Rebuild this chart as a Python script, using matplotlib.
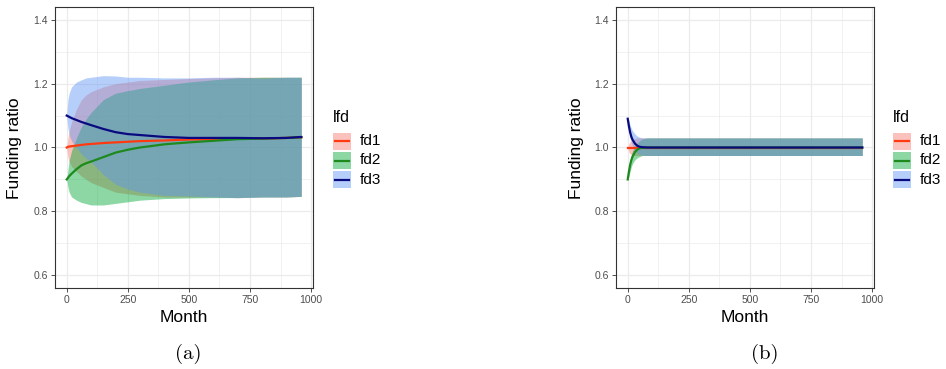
import numpy as np
import matplotlib.pyplot as plt
from matplotlib.patches import Rectangle
from matplotlib.lines import Line2D
from matplotlib.ticker import MultipleLocator

# --- (a) 初期値の影響が長く残るケース ---
months_a = [0, 5, 10, 20, 40, 60, 80, 100, 150, 200, 250, 300, 400, 500, 600, 700, 800, 900, 960]

fd1_mean_a = [1.000, 1.002, 1.003, 1.004, 1.006, 1.008, 1.010, 1.011, 1.014, 1.016,
              1.018, 1.020, 1.022, 1.025, 1.026, 1.028, 1.028, 1.030, 1.032]
fd1_hi_a = [1.00, 1.03, 1.05, 1.08, 1.12, 1.15, 1.165, 1.175, 1.19, 1.20,
            1.205, 1.21, 1.213, 1.216, 1.218, 1.22, 1.22, 1.22, 1.22]
fd1_lo_a = [1.00, 0.97, 0.955, 0.94, 0.925, 0.91, 0.90, 0.89, 0.875, 0.86,
            0.855, 0.85, 0.845, 0.845, 0.845, 0.843, 0.845, 0.845, 0.847]

fd2_mean_a = [0.900, 0.905, 0.910, 0.918, 0.932, 0.944, 0.951, 0.956, 0.970, 0.984,
              0.993, 1.000, 1.010, 1.016, 1.021, 1.026, 1.028, 1.030, 1.032]
fd2_hi_a = [0.90, 0.93, 0.96, 0.99, 1.03, 1.065, 1.09, 1.11, 1.15, 1.17,
            1.178, 1.185, 1.195, 1.205, 1.212, 1.218, 1.22, 1.22, 1.22]
fd2_lo_a = [0.90, 0.875, 0.86, 0.845, 0.835, 0.828, 0.824, 0.82, 0.82, 0.825,
            0.83, 0.835, 0.84, 0.842, 0.843, 0.843, 0.845, 0.845, 0.847]

fd3_mean_a = [1.100, 1.098, 1.096, 1.092, 1.086, 1.080, 1.075, 1.070, 1.058, 1.048,
              1.042, 1.039, 1.033, 1.030, 1.030, 1.030, 1.029, 1.030, 1.033]
fd3_hi_a = [1.10, 1.15, 1.17, 1.19, 1.205, 1.212, 1.218, 1.22, 1.225, 1.224,
            1.22, 1.22, 1.218, 1.218, 1.22, 1.22, 1.217, 1.22, 1.22]
fd3_lo_a = [1.10, 1.06, 1.04, 1.02, 1.00, 0.98, 0.965, 0.955, 0.915, 0.885,
            0.87, 0.86, 0.85, 0.848, 0.845, 0.843, 0.845, 0.845, 0.847]

# --- (b) すぐに1.0へ収束するケース ---
months_b = [0, 5, 10, 15, 20, 30, 40, 50, 60, 80, 100, 200, 300, 400, 500, 600, 700, 800, 900, 960]

fd1_mean_b = [1.000] * 20
fd1_hi_b = [1.00, 1.012, 1.018, 1.022, 1.025, 1.028, 1.03, 1.03, 1.03, 1.03,
            1.03, 1.03, 1.03, 1.03, 1.03, 1.03, 1.03, 1.03, 1.03, 1.03]
fd1_lo_b = [1.00, 0.985, 0.98, 0.978, 0.976, 0.975, 0.975, 0.975, 0.975, 0.975,
            0.975, 0.975, 0.975, 0.975, 0.975, 0.975, 0.975, 0.975, 0.975, 0.975]

fd2_mean_b = [0.900, 0.925, 0.946, 0.961, 0.972, 0.986, 0.994, 0.998, 0.999, 1.000,
              1.000, 1.000, 1.000, 1.000, 1.000, 1.000, 1.000, 1.000, 1.000, 1.000]
fd2_hi_b = [0.90, 0.94, 0.962, 0.978, 0.99, 1.005, 1.015, 1.022, 1.027, 1.03,
            1.03, 1.03, 1.03, 1.03, 1.03, 1.03, 1.03, 1.03, 1.03, 1.03]
fd2_lo_b = [0.90, 0.91, 0.925, 0.94, 0.95, 0.962, 0.968, 0.972, 0.975, 0.975,
            0.975, 0.975, 0.975, 0.975, 0.975, 0.975, 0.975, 0.975, 0.975, 0.975]

fd3_mean_b = [1.090, 1.066, 1.047, 1.033, 1.024, 1.012, 1.005, 1.002, 1.001, 1.000,
              1.000, 1.000, 1.000, 1.000, 1.000, 1.000, 1.000, 1.000, 1.000, 1.000]
fd3_hi_b = [1.09, 1.085, 1.07, 1.06, 1.052, 1.042, 1.035, 1.032, 1.03, 1.03,
            1.03, 1.03, 1.03, 1.03, 1.03, 1.03, 1.03, 1.03, 1.03, 1.03]
fd3_lo_b = [1.09, 1.05, 1.03, 1.015, 1.005, 0.99, 0.982, 0.978, 0.976, 0.975,
            0.975, 0.975, 0.975, 0.975, 0.975, 0.975, 0.975, 0.975, 0.975, 0.975]

labels = ['fd1', 'fd2', 'fd3']
fill_colors = ['#F8766D', '#00A835', '#5F95F5']
line_colors = ['#FF3A10', '#1E8A1E', '#0A0A80']
band_alpha = 0.45

plt.rcParams['font.family'] = ['Liberation Sans', 'DejaVu Sans']

fig = plt.figure(figsize=(9.46, 3.69), dpi=100)
W, H = 946, 369


def panel(x0, x1, months, series, legend_x, tag, tag_x):
    ax = fig.add_axes([x0 / W, 1 - 288 / H, (x1 - x0) / W, 281 / H])
    for (mean, hi, lo), fc in zip(series, fill_colors):
        ax.fill_between(months, lo, hi, color=fc, alpha=band_alpha, lw=0, zorder=2)
    for (mean, hi, lo), lc in zip(series, line_colors):
        ax.plot(months, mean, color=lc, lw=1.6, zorder=3)

    ax.set_xlim(-48, 1008)
    ax.set_ylim(0.56, 1.44)
    ax.xaxis.set_major_locator(MultipleLocator(250))
    ax.xaxis.set_minor_locator(MultipleLocator(125))
    ax.yaxis.set_major_locator(MultipleLocator(0.2))
    ax.yaxis.set_minor_locator(MultipleLocator(0.1))
    ax.yaxis.set_major_formatter(plt.FuncFormatter(lambda v, p: f'{v:.1f}'))
    ax.grid(which='major', color='#EBEBEB', lw=0.9, zorder=0)
    ax.grid(which='minor', color='#EBEBEB', lw=0.5, zorder=0)
    ax.set_axisbelow(True)
    ax.tick_params(which='major', length=3, width=0.6, color='#333333',
                   labelsize=7.5, labelcolor='#4D4D4D', pad=2)
    ax.tick_params(which='minor', length=0)
    for s in ax.spines.values():
        s.set_color('#333333')
        s.set_linewidth(0.8)

    cx = (x0 + x1) / 2
    fig.text(cx / W, 1 - 318 / H, 'Month', ha='center', va='center', fontsize=12.5)
    fig.text((x0 - 40) / W, 1 - 148 / H, 'Funding ratio', ha='center', va='center',
             rotation=90, fontsize=12.5)
    fig.text(tag_x / W, 1 - 354 / H, tag, ha='center', va='center',
             fontsize=15, family='cmr10')

    # 凡例（手書き）
    fig.text(legend_x / W, 1 - 117 / H, 'lfd', ha='left', va='center', fontsize=11.5)
    for i, (lab, fc, lc) in enumerate(zip(labels, fill_colors, line_colors)):
        ytop = 133 + i * 19
        fig.add_artist(Rectangle((legend_x / W, 1 - (ytop + 17) / H), 18 / W, 17 / H,
                                 transform=fig.transFigure, facecolor=fc,
                                 alpha=band_alpha, lw=0))
        yc = 1 - (ytop + 8.5) / H
        fig.add_artist(Line2D([(legend_x + 2) / W, (legend_x + 16) / W], [yc, yc],
                              transform=fig.transFigure, color=lc, lw=1.6))
        fig.text((legend_x + 27) / W, yc, lab, ha='left', va='center', fontsize=11)
    return ax


series_a = [(fd1_mean_a, fd1_hi_a, fd1_lo_a),
            (fd2_mean_a, fd2_hi_a, fd2_lo_a),
            (fd3_mean_a, fd3_hi_a, fd3_lo_a)]
series_b = [(fd1_mean_b, fd1_hi_b, fd1_lo_b),
            (fd2_mean_b, fd2_hi_b, fd2_lo_b),
            (fd3_mean_b, fd3_hi_b, fd3_lo_b)]

panel(55, 313, months_a, series_a, 333, '(a)', 188)
panel(616, 874, months_b, series_b, 893, '(b)', 765)

fig.savefig('out.png', dpi=100)
